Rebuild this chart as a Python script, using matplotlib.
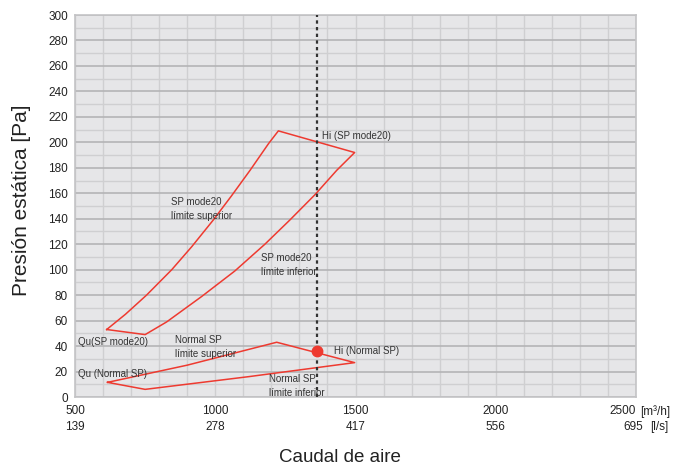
import numpy as np
import matplotlib
matplotlib.use("Agg")
import matplotlib.pyplot as plt
from matplotlib.ticker import MultipleLocator

plt.rcParams["font.family"] = ["Liberation Sans", "DejaVu Sans"]

# ── data ────────────────────────────────────────────────────────────────
# SP mode20 envelope: upper limit and lower limit
sp20_sup_q = [613, 680, 755, 845, 916, 993, 1058, 1124, 1190, 1225]
sp20_sup_p = [53, 65, 80, 100, 118, 139, 158, 178, 199, 209]
sp20_inf_q = [750, 827, 952, 1070, 1177, 1266, 1356, 1433, 1497]
sp20_inf_p = [49, 59, 79, 99, 120, 139, 159, 178, 192]

# Normal SP envelope
nsp_sup_q = [616, 900, 1219]
nsp_sup_p = [11.5, 25, 43]
nsp_inf_q = [750, 1120, 1497]
nsp_inf_p = [6, 16, 27]

hi_q = 1364          # Hi operating point (dashed line)
hi_normal_p = 36

xticks_m3h = [500, 1000, 1500, 2000]
xticks_ls = ["139", "278", "417", "556"]
yticks = list(range(0, 301, 20))

RED = "#ee3a30"
TXT = "#222222"

fig = plt.figure(figsize=(6.81, 4.70), dpi=100)
ax = fig.add_axes([75 / 681, 1 - 397 / 470, 561 / 681, 382 / 470])
ax.set_facecolor("#e6e6e8")
ax.set_xlim(500, 2500)
ax.set_ylim(0, 300)

# grid
ax.xaxis.set_minor_locator(MultipleLocator(100))
ax.yaxis.set_minor_locator(MultipleLocator(10))
ax.grid(which="minor", color="#cfcfd1", lw=1.0, zorder=0)
ax.grid(which="major", axis="y", color="#b4b4b6", lw=1.2, zorder=0)
ax.grid(which="major", axis="x", color="#cfcfd1", lw=1.0, zorder=0)
ax.set_axisbelow(True)
for s in ax.spines.values():
    s.set_color("#c4c4c6")
    s.set_linewidth(1.2)
ax.tick_params(which="both", length=0)

ax.set_yticks(yticks)
ax.set_yticklabels([str(v) for v in yticks], fontsize=8.5, color=TXT)
ax.tick_params(axis="y", pad=5)
ax.set_xticks(xticks_m3h)
ax.set_xticklabels([f"{a}\n{b}" for a, b in zip(xticks_m3h, xticks_ls)],
                   fontsize=8.5, color=TXT, linespacing=1.5)
ax.tick_params(axis="x", pad=5.5)

# last x label with units
units = dict(textcoords="offset points", va="top", fontsize=8.5, color=TXT,
             annotation_clip=False)
ax.annotate("2500", xy=(2500, 0), xytext=(0, -6), ha="right", **units)
ax.annotate("[m³/h]", xy=(2500, 0), xytext=(3, -6), ha="left", **units)
ax.annotate("695", xy=(2500, 0), xytext=(5, -17.5), ha="right", **units)
ax.annotate("[l/s]", xy=(2500, 0), xytext=(10, -17.5), ha="left", **units)

# SP mode20 polygon
q = sp20_sup_q + sp20_inf_q[::-1] + [sp20_sup_q[0]]
p = sp20_sup_p + sp20_inf_p[::-1] + [sp20_sup_p[0]]
ax.plot(q, p, color=RED, lw=1.1, zorder=3)

# Normal SP polygon
q = nsp_sup_q + nsp_inf_q[::-1] + [nsp_sup_q[0]]
p = nsp_sup_p + nsp_inf_p[::-1] + [nsp_sup_p[0]]
ax.plot(q, p, color=RED, lw=1.1, zorder=3)

# Hi line and point
ax.axvline(hi_q, color="#333333", lw=1.6, ls=(0, (1.5, 1.5)), zorder=4)
ax.plot([hi_q], [hi_normal_p], "o", color=RED, ms=7.5, zorder=5)

lab = dict(fontsize=7, color="#333333", va="center", ha="left", zorder=6)
ax.text(1382, 205, "Hi (SP mode20)", **lab)
ax.text(842, 148, "SP mode20\nlímite superior", linespacing=1.5, **lab)
ax.text(1163, 104, "SP mode20\nlímite inferior", linespacing=1.5, **lab)
ax.text(510, 43, "Qu(SP mode20)", **lab)
ax.text(855, 39, "Normal SP\nlímite superior", linespacing=1.5, **lab)
ax.text(1425, 36, "Hi (Normal SP)", **lab)
ax.text(510, 18, "Qu (Normal SP)", **lab)
ax.text(1190, 9, "Normal SP\nlímite inferior", linespacing=1.5, **lab)

fig.text(22 / 681, 1 - 200 / 470, "Presión estática [Pa]", rotation=90,
         ha="center", va="center", fontsize=15, color=TXT)
fig.text(340 / 681, 1 - 458 / 470, "Caudal de aire", ha="center", va="center",
         fontsize=13.5, color=TXT)

fig.savefig("out.png", dpi=100)
